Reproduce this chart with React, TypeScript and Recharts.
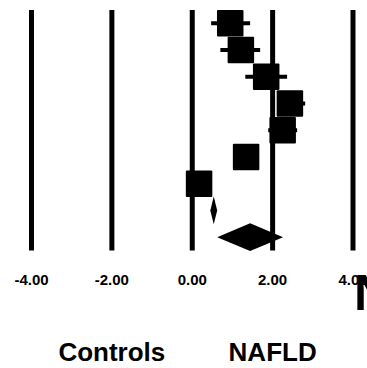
import React from "react";
import {
  ComposedChart,
  XAxis,
  YAxis,
  Scatter,
  ErrorBar,
  ReferenceLine,
  ReferenceArea,
} from "recharts";

// Study rows (top to bottom)
const studyRows = [1, 2, 3, 4, 5, 6, 7];
const studyEstimates = [0.945, 1.21, 1.84, 2.43, 2.25, 1.34, 0.17];
const studyLower = [0.47, 0.7, 1.32, 2.15, 1.89, 1.2, 0.05];
const studyUpper = [1.44, 1.69, 2.36, 2.81, 2.61, 1.48, 0.29];

// Pooled estimates (diamonds)
const pooledRows = [8, 9];
const pooledEstimates = [0.535, 1.44];
const pooledLower = [0.45, 0.62];
const pooledUpper = [0.62, 2.26];

// Axis
const tickValues = [-4, -2, 0, 2, 4];
const tickLabels = ["-4.00", "-2.00", "0.00", "2.00", "4.00"];
const groupTicks = [-2, 2];
const groupLabels = ["Controls", "NAFLD"];

const studyData = studyRows.map((row, i) => ({
  row,
  est: studyEstimates[i],
  err: [studyEstimates[i] - studyLower[i], studyUpper[i] - studyEstimates[i]],
}));

const FONT = "'Liberation Sans', Arial, Helvetica, sans-serif";

const SquareShape = (props: any) => {
  const { cx, cy } = props;
  const s = 26.5;
  return <rect x={cx - s / 2} y={cy - s / 2} width={s} height={s} fill="#000" rx={1} />;
};

const DiamondShape = (props: any) => {
  const { x, y, width, height } = props;
  const pts = [
    [x, y + height / 2],
    [x + width / 2, y],
    [x + width, y + height / 2],
    [x + width / 2, y + height],
  ]
    .map((p) => p.join(","))
    .join(" ");
  return <polygon points={pts} fill="#000" />;
};

const AxisTick = (props: any) => {
  const { x, y, payload } = props;
  const idx = tickValues.indexOf(payload.value);
  const gIdx = groupTicks.indexOf(payload.value);
  return (
    <g>
      <text
        x={x}
        y={y + 34.5}
        textAnchor="middle"
        fontFamily={FONT}
        fontWeight="bold"
        fontSize={15}
        fill="#000"
      >
        {tickLabels[idx]}
      </text>
      {gIdx >= 0 && (
        <text
          x={x}
          y={y + 110.5}
          textAnchor="middle"
          fontFamily={FONT}
          fontWeight="bold"
          fontSize={26}
          fill="#000"
        >
          {groupLabels[gIdx]}
        </text>
      )}
    </g>
  );
};

export default function App() {
  return (
    <div
      style={{
        position: "absolute",
        top: 0,
        left: 0,
        width: 367,
        height: 368,
        overflow: "hidden",
        background: "#fff",
      }}
    >
      <ComposedChart
        width={367}
        height={368}
        data={studyData}
        margin={{ top: 10, right: 14, bottom: 17.5, left: 31.5 }}
      >
        <XAxis
          type="number"
          dataKey="est"
          domain={[-4, 4]}
          ticks={tickValues}
          axisLine={false}
          tickLine={false}
          tickSize={0}
          tickMargin={0}
          height={100}
          tick={<AxisTick />}
          allowDataOverflow
          interval={0}
        />
        <YAxis type="number" dataKey="row" domain={[0.5, 9.5]} reversed hide allowDataOverflow />
        {tickValues.map((v) => (
          <ReferenceLine key={v} x={v} stroke="#000" strokeWidth={5} ifOverflow="visible" />
        ))}
        <Scatter data={studyData} dataKey="est" shape={<SquareShape />} isAnimationActive={false}>
          <ErrorBar dataKey="err" direction="x" width={0} stroke="#000" strokeWidth={4} />
        </Scatter>
        {pooledRows.map((row, i) => (
          <ReferenceArea
            key={row}
            x1={pooledLower[i]}
            x2={pooledUpper[i]}
            y1={row - 0.52}
            y2={row + 0.52}
            ifOverflow="visible"
            shape={<DiamondShape />}
          />
        ))}
      </ComposedChart>
      <div
        style={{
          position: "absolute",
          left: 354,
          top: 268,
          fontFamily: FONT,
          fontWeight: "bold",
          fontSize: 50,
          lineHeight: "50px",
          whiteSpace: "nowrap",
          color: "#000",
        }}
      >
        N
      </div>
    </div>
  );
}
